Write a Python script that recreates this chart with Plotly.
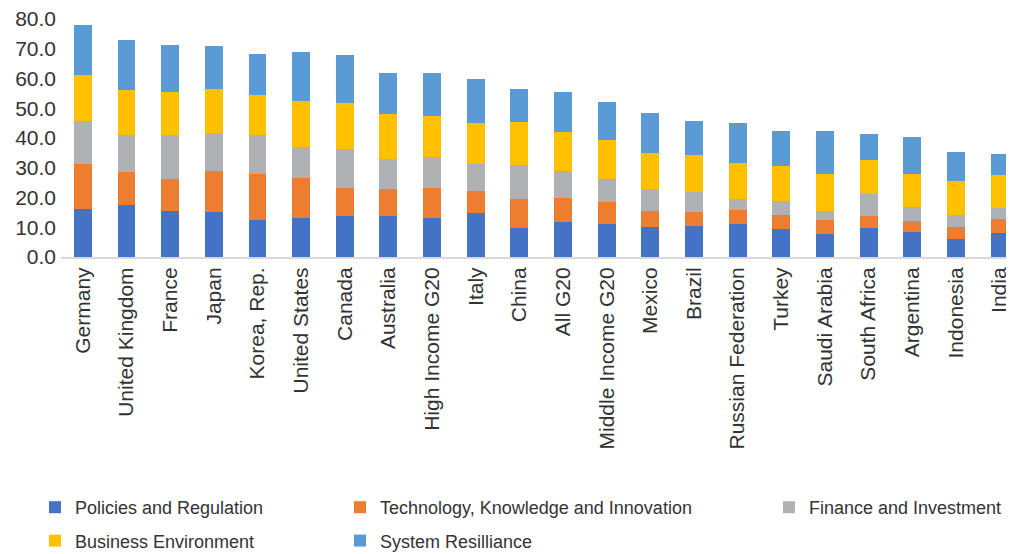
import plotly.graph_objects as go

categories = ["Germany", "United Kingdom", "France", "Japan", "Korea, Rep.", "United States",
              "Canada", "Australia", "High Income G20", "Italy", "China", "All G20",
              "Middle Income G20", "Mexico", "Brazil", "Russian Federation", "Turkey",
              "Saudi Arabia", "South Africa", "Argentina", "Indonesia", "India"]

policies = [16.2, 17.5, 15.5, 15.2, 12.5, 13.1, 13.8, 13.8, 13.1, 14.8, 9.8, 11.8,
            11.1, 10.1, 10.4, 11.1, 9.4, 7.8, 9.8, 8.4, 6.1, 8.1]
technology = [15.1, 11.2, 10.8, 13.8, 15.5, 13.5, 9.5, 9.1, 10.2, 7.4, 9.8, 8.1,
              7.4, 5.4, 4.8, 4.7, 4.8, 4.7, 4.0, 3.7, 4.0, 4.7]
finance = [14.5, 12.2, 14.8, 12.8, 13.1, 10.5, 13.1, 10.1, 10.4, 9.1, 11.4, 9.1,
           7.8, 7.4, 6.7, 3.8, 4.7, 2.8, 7.5, 4.8, 4.1, 3.8]
business = [15.5, 15.1, 14.5, 14.8, 13.5, 15.5, 15.5, 15.2, 13.8, 13.9, 14.5, 13.1,
            13.1, 12.2, 12.5, 12.1, 11.8, 12.7, 11.4, 11.1, 11.4, 11.0]
resilience = [16.6, 17.1, 15.5, 14.2, 13.8, 16.2, 15.9, 13.8, 14.5, 14.5, 11.1, 13.2,
              12.8, 13.4, 11.4, 13.5, 11.8, 14.5, 8.8, 12.4, 9.8, 7.1]

y_ticks = [0, 10, 20, 30, 40, 50, 60, 70, 80]

series = [
    ("Policies and Regulation", policies, "#4472C4", "legend", "g1"),
    ("Technology, Knowledge and Innovation", technology, "#ED7D31", "legend2", "g2"),
    ("Finance and Investment", finance, "#B0B1B4", "legend3", "g3"),
    ("Business Environment", business, "#FFC000", "legend", "g4"),
    ("System Resilliance", resilience, "#5B9BD5", "legend2", "g5"),
]

fig = go.Figure()
for name, vals, color, leg, grp in series:
    fig.add_trace(go.Bar(
        x=categories, y=vals, name=name, marker=dict(color=color, line=dict(width=0)),
        width=0.41, legend=leg, legendgroup=grp,
    ))

W, H = 1006, 546
FONT = "Liberation Sans, Arial, sans-serif"
leg_common = dict(
    orientation="v", xref="container", yref="container", yanchor="top", xanchor="left",
    font=dict(family=FONT, size=18, color="#333333"), bgcolor="rgba(0,0,0,0)",
    tracegroupgap=7, itemclick=False, itemdoubleclick=False,
)
LEG_TOP = 1 - 481 / H

fig.update_layout(
    width=W, height=H,
    margin=dict(l=53, r=0, t=11, b=297, autoexpand=False),
    paper_bgcolor="white", plot_bgcolor="white",
    barmode="stack",
    font=dict(family=FONT, color="#333333"),
    xaxis=dict(
        type="category", range=[-0.5, 21.33],
        showline=True, linecolor="#D9D9D9", linewidth=2,
        tickangle=-90, tickfont=dict(family=FONT, size=21, color="#333333"),
        ticks="", showgrid=False, zeroline=False,
    ),
    yaxis=dict(
        range=[0, 80], tickvals=y_ticks, tickformat=".1f",
        showgrid=False, zeroline=False, showline=False, ticks="",
        tickfont=dict(family=FONT, size=21, color="#333333"),
        ticklabelstandoff=4, ticklabeloverflow="allow",
    ),
    legend=dict(x=27 / W, y=LEG_TOP, **leg_common),
    legend2=dict(x=332 / W, y=LEG_TOP, **leg_common),
    legend3=dict(x=761 / W, y=LEG_TOP, **leg_common),
)

fig.write_html("out.html")
